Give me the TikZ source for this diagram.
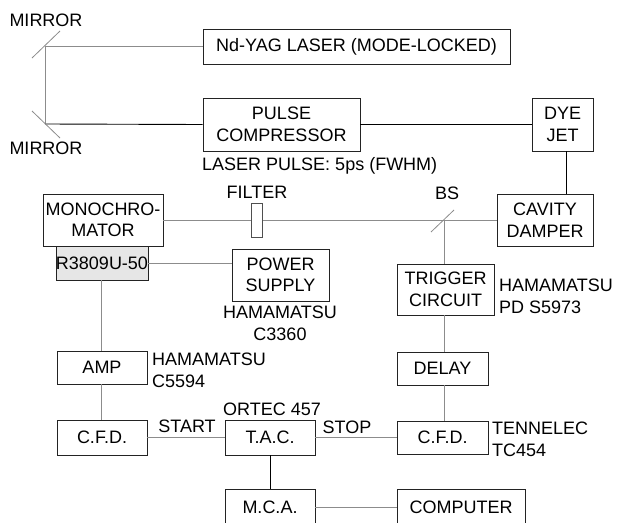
\documentclass[tikz,border=0pt]{standalone}
\usepackage{fontspec}
\setmainfont{Liberation Sans}
\definecolor{lgrey}{RGB}{140,140,140}
\definecolor{bord}{RGB}{35,35,35}
\definecolor{pmtfill}{RGB}{230,230,230}
\tikzset{
  box/.style={draw=bord, line width=0.9pt, inner sep=0pt, align=center, fill=white},
  lbl/.style={inner sep=0pt, align=center},
  lbll/.style={inner sep=0pt, align=left, anchor=west},
  gline/.style={draw=lgrey, line width=0.9pt},
  bline/.style={draw=black, line width=0.9pt},
  mirr/.style={draw=lgrey, line width=0.8pt}
}
\begin{document}
\begin{tikzpicture}[x=1pt,y=-1pt,font=\fontsize{18}{21.5}\selectfont]
\useasboundingbox (0,0) rectangle (617,522);
\clip (0,0) rectangle (617,522);
% boxes
\node[box, minimum width=307pt, minimum height=35pt] (yag) at (356.5,46.5) {Nd-YAG LASER (MODE-LOCKED)};
\node[box, minimum width=157pt, minimum height=53pt] (comp) at (281.5,124.5) {PULSE\\COMPRESSOR};
\node[box, minimum width=61pt, minimum height=53pt] (dye) at (562.5,124.5) {DYE\\JET};
\node[box, minimum width=96pt, minimum height=52pt] (cav) at (545,220) {CAVITY\\DAMPER};
\node[box, minimum width=120pt, minimum height=52pt] (mono) at (103,220) {MONOCHRO-\\MATOR};
\node[box, fill=pmtfill, minimum width=90pt, minimum height=34pt] (pmt) at (102,263) {R3809U-50};
\node[box, minimum width=97pt, minimum height=52pt] (ps) at (280.5,275) {POWER\\SUPPLY};
\node[box, minimum width=97pt, minimum height=51pt] (trig) at (445.5,289.5) {TRIGGER\\CIRCUIT};
\node[box, minimum width=90pt, minimum height=33pt] (amp) at (102,367.5) {AMP};
\node[box, minimum width=91pt, minimum height=33pt] (delay) at (442.5,368.5) {DELAY};
\node[box, minimum width=90pt, minimum height=35pt] (cfdl) at (102,437.5) {C.F.D.};
\node[box, minimum width=90pt, minimum height=35pt] (tac) at (270,437.5) {T.A.C.};
\node[box, minimum width=91pt, minimum height=33pt] (cfdr) at (442.5,437.5) {C.F.D.};
\node[box, minimum width=90pt, minimum height=36pt] (mca) at (270,507) {M.C.A.};
\node[box, minimum width=128pt, minimum height=36pt] (pc) at (461,507) {COMPUTER};
% coordinates
\coordinate (m1) at (45,46.5);
\coordinate (m2) at (45,124);
\coordinate (bs) at (444,220);
% mirrors and beams
\draw[gline] (m1) -- (yag.west);
\draw[gline] (m1) -- (m2);
\draw[bline] (m2) -- (comp.west);
\draw[mirr] (32,58) -- (60,31);
\draw[mirr] (32,111) -- (60,138);
\draw[bline] (comp.east) -- (dye.west);
\draw[bline] (dye.south -| 566,0) -- (cav.north -| 566,0);
\draw[gline] (cav.west) -- (mono.east);
\draw[mirr] (431,232) -- (454,210);
\draw[gline] (bs) -- (bs |- trig.north);
\draw[gline] (bs |- trig.south) -- (bs |- delay.north);
\draw[gline] (bs |- delay.south) -- (bs |- cfdr.north);
\draw[gline] (pmt.east) -- (pmt.east -| ps.west);
\draw[gline] (pmt.south -| 101,0) -- (amp.north -| 101,0);
\draw[gline] (amp.south -| 101,0) -- (cfdl.north -| 101,0);
\draw[gline] (cfdl.east) -- (tac.west);
\draw[gline] (tac.east) -- (cfdr.west);
\draw[bline] (tac.south) -- (mca.north);
\draw[gline] (mca.east) -- (pc.west);
% filter
\node[draw=bord!80, line width=0.8pt, fill=white, minimum width=11pt, minimum height=34pt, inner sep=0pt] (filt) at (256.5,220) {};
% labels
\node[lbl] (lm1) at (46,20) {MIRROR};
\node[lbl] (lm2) at (46,148) {MIRROR};
\node[lbll] (lpulse) at (202,166) {LASER PULSE: 5ps (FWHM)};
\node[lbl] (lfilt) at (257,192) {FILTER};
\node[lbl] (lbs) at (447,193) {BS};
\node[lbl] (lps) at (280,323.5) {HAMAMATSU\\C3360};
\node[lbll] (lamp) at (152,370.5) {HAMAMATSU\\C5594};
\node[lbll] (ltrig) at (499,296.5) {HAMAMATSU\\PD S5973};
\node[lbll] (lcfd) at (492,439.5) {TENNELEC\\TC454};
\node[lbl] (lortec) at (272,409) {ORTEC 457};
\node[lbl] (lstart) at (187,426) {START};
\node[lbl] (lstop) at (347,427) {STOP};
\end{tikzpicture}
\end{document}
